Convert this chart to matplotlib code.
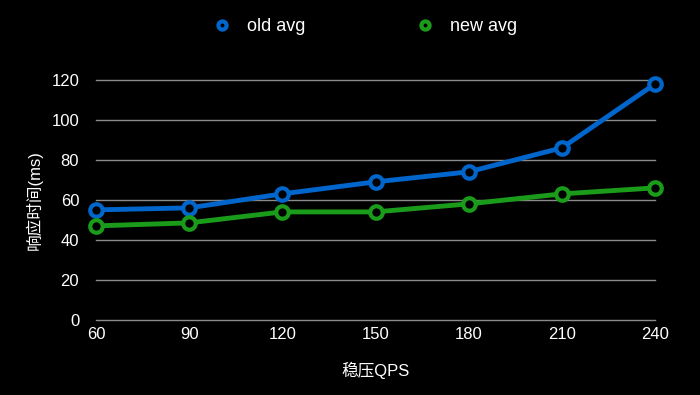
import matplotlib
matplotlib.use('Agg')
import matplotlib.pyplot as plt

# data
qps = [60, 90, 120, 150, 180, 210, 240]
old_avg = [55, 56, 63, 69, 74, 86, 118]
new_avg = [47, 48.5, 54, 54, 58, 63, 66]
y_ticks = [0, 20, 40, 60, 80, 100, 120]

plt.rcParams['font.family'] = ['Liberation Sans', 'Noto Sans CJK SC', 'DejaVu Sans']

fig = plt.figure(figsize=(7, 3.95), dpi=100, facecolor='black')
ax = fig.add_axes([0.137, 0.19, 0.799, 0.608], facecolor='black')

ax.plot(qps, old_avg, color='#0066cc', lw=3.5, marker='o', ms=9,
        mfc='black', mec='#0066cc', mew=3, label='old avg', clip_on=False, zorder=3)
ax.plot(qps, new_avg, color='#1a9c1a', lw=3.5, marker='o', ms=9,
        mfc='black', mec='#1a9c1a', mew=3, label='new avg', clip_on=False, zorder=3)

ax.set_xlim(60, 240)
ax.set_ylim(0, 120)
ax.set_xticks(qps)
ax.set_yticks(y_ticks)
ax.grid(axis='y', color='#8a8a8a', lw=1)
for gl in ax.get_ygridlines():
    gl.set_clip_on(False)
ax.set_axisbelow(True)
for s in ax.spines.values():
    s.set_visible(False)
ax.tick_params(colors='white', labelsize=12, length=0)
ax.tick_params(axis='x', pad=5)
ax.tick_params(axis='y', pad=12)

ax.set_xlabel('稳压QPS', color='white', fontsize=12, labelpad=14)
ax.set_ylabel('响应时间(ms)', color='white', fontsize=12, labelpad=6)

leg = fig.legend(loc='upper center', bbox_to_anchor=(0.52, 0.995), ncol=2,
                 frameon=False, fontsize=13, labelcolor='white',
                 columnspacing=6.0, handlelength=1.2, markerscale=0.65)
for line in leg.get_lines():
    line.set_linestyle('')

fig.savefig('out.png', dpi=100, facecolor='black')
